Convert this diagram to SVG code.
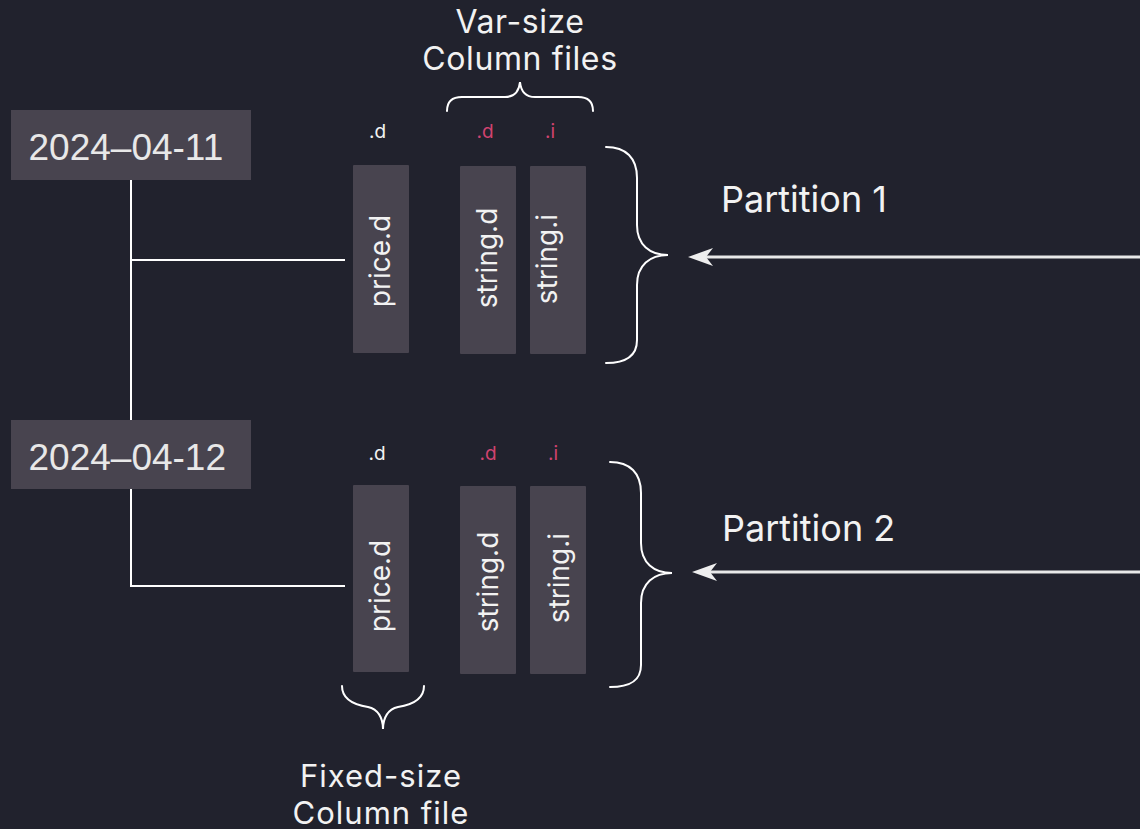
<svg xmlns="http://www.w3.org/2000/svg" width="1140" height="829" viewBox="0 0 1140 829">
  <style>
    .bg { fill: #21222d; }
    .date rect { fill: #48444f; }
    .date text { font-family: "Liberation Sans", Arial, sans-serif; font-size: 37px; fill: #e8e8e8; }
    .file rect { fill: #48444f; }
    .file text { font-family: Inter, "Noto Sans", sans-serif; font-size: 28px; fill: #f2f2f2; text-anchor: middle; }
    .ext { font-family: Inter, "Noto Sans", sans-serif; font-size: 19px; fill: #f2f2f2; text-anchor: middle; }
    .ext.var { fill: #d0436f; }
    .label { font-family: Inter, "Noto Sans", sans-serif; font-size: 32px; letter-spacing: 0.6px; fill: #f2f2f2; text-anchor: middle; }
    .label.small { font-size: 31px; letter-spacing: 1px; }
    .part { font-family: Inter, "Noto Sans", sans-serif; font-size: 36px; fill: #f2f2f2; }
    .tree { fill: none; stroke: #ffffff; stroke-width: 2; }
    .brace { fill: none; stroke: #ffffff; stroke-width: 2; stroke-linecap: round; }
    .arrow { fill: none; stroke: #e8e8e8; stroke-width: 3; }
  </style>
  <defs>
    <!-- swept arrowhead, tip 12px ahead of the line end -->
    <marker id="head" markerUnits="userSpaceOnUse" markerWidth="30" markerHeight="24" refX="13" refY="12" orient="auto" viewBox="0 0 30 24">
      <path d="M25,12 L0,3 L7,12 L0,21 Z" fill="#eeeeee"/>
    </marker>
  </defs>

  <rect class="bg" x="0" y="0" width="1140" height="829"/>

  <!-- tree connectors from the date partitions to their column files -->
  <g id="connectors">
    <path class="tree" d="M131,180 V420"/>
    <path class="tree" d="M131,260 H345"/>
    <path class="tree" d="M131,489 V586 H345"/>
    <path class="arrow" d="M1140,257 H700" marker-end="url(#head)"/>
    <path class="arrow" d="M1140,572 H704" marker-end="url(#head)"/>
  </g>

  <!-- partition directories -->
  <g id="date-2024-04-11" class="date">
    <rect x="11" y="110" width="240" height="70"/>
    <text x="28.5" y="160">2024–04-11</text>
  </g>
  <g id="date-2024-04-12" class="date">
    <rect x="11" y="420" width="240" height="69"/>
    <text x="28.5" y="470">2024–04-12</text>
  </g>

  <!-- partition 1 column files -->
  <text class="ext" x="377.5" y="138">.d</text>
  <text class="ext var" x="485" y="138">.d</text>
  <text class="ext var" x="550" y="138">.i</text>
  <g id="p1-price-d" class="file">
    <rect x="353" y="165" width="56" height="188" rx="1"/>
    <text transform="translate(390,261) rotate(-90)">price.d</text>
  </g>
  <g id="p1-string-d" class="file">
    <rect x="460" y="166" width="56" height="188" rx="1"/>
    <text transform="translate(497,258) rotate(-90)">string.d</text>
  </g>
  <g id="p1-string-i" class="file">
    <rect x="530" y="166" width="56" height="188" rx="1"/>
    <text transform="translate(557,259) rotate(-90)">string.i</text>
  </g>

  <!-- partition 2 column files -->
  <text class="ext" x="377" y="460">.d</text>
  <text class="ext var" x="488" y="460">.d</text>
  <text class="ext var" x="553" y="460">.i</text>
  <g id="p2-price-d" class="file">
    <rect x="353" y="485" width="56" height="187" rx="1"/>
    <text transform="translate(390,586) rotate(-90)">price.d</text>
  </g>
  <g id="p2-string-d" class="file">
    <rect x="460" y="486" width="56" height="188" rx="1"/>
    <text transform="translate(498,582) rotate(-90)">string.d</text>
  </g>
  <g id="p2-string-i" class="file">
    <rect x="530" y="486" width="56" height="188" rx="1"/>
    <text transform="translate(569,578) rotate(-90)">string.i</text>
  </g>

  <!-- braces -->
  <g id="brace-var-size">
    <path class="brace" d="M447,111 C447,101 452,97 462,97 L505,97 C514,97 519,92 520,82 C521,92 526,97 535,97 L578,97 C588,97 593,101 593,111"/>
    <text class="label" x="520" y="33">Var-size</text>
    <text class="label" x="520" y="70">Column files</text>
  </g>
  <g id="brace-fixed-size">
    <path class="brace" d="M342,686 C342,700 355,705 368,707 C378,709 383,718 383,729 C383,718 388,709 398,707 C411,705 424,700 424,686"/>
    <text class="label small" x="381" y="787">Fixed-size</text>
    <text class="label small" x="381" y="824">Column file</text>
  </g>
  <g id="partition-1">
    <path class="brace" d="M606,147 C626,147 637,158 637,178 L637,225 C637,245 650,255 668,255 C650,255 637,265 637,285 L637,340 C637,356 626,363 606,363"/>
    <text class="part" x="721" y="212">Partition 1</text>
  </g>
  <g id="partition-2">
    <path class="brace" d="M610,462 C630,462 641,473 641,493 L641,543 C641,563 654,573 672,573 C654,573 641,583 641,603 L641,665 C641,681 630,687 610,687"/>
    <text class="part" x="722" y="541">Partition 2</text>
  </g>
</svg>
